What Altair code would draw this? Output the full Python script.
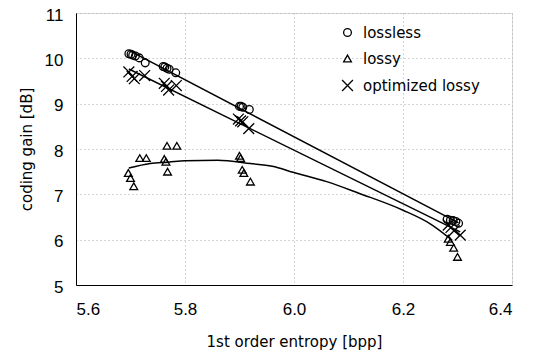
import altair as alt
import pandas as pd

LBL = "Liberation Sans"
TTL = "DejaVu Sans"

lossless_x = [5.697, 5.701, 5.704, 5.709, 5.716, 5.727, 5.760, 5.763, 5.767, 5.771, 5.783,
              5.900, 5.903, 5.906, 5.918, 6.281, 6.287, 6.292, 6.297, 6.302]
lossless_y = [10.10, 10.09, 10.07, 10.05, 10.01, 9.90, 9.82, 9.81, 9.78, 9.76, 9.68,
              8.94, 8.94, 8.92, 8.87, 6.45, 6.43, 6.42, 6.40, 6.36]

lossy_x = [5.696, 5.700, 5.706, 5.717, 5.729, 5.762, 5.765, 5.768, 5.767, 5.785,
           5.900, 5.902, 5.905, 5.908, 5.920, 6.283, 6.287, 6.293, 6.300]
lossy_y = [7.47, 7.36, 7.18, 7.80, 7.80, 7.78, 7.72, 7.50, 8.07, 8.07,
           7.85, 7.80, 7.54, 7.47, 7.28, 6.02, 5.95, 5.82, 5.62]

opt_x = [5.697, 5.703, 5.707, 5.726, 5.762, 5.766, 5.770, 5.784,
         5.898, 5.902, 5.906, 5.917, 6.283, 6.288, 6.294, 6.305]
opt_y = [9.70, 9.60, 9.55, 9.62, 9.45, 9.38, 9.30, 9.40,
         8.66, 8.62, 8.60, 8.45, 6.32, 6.27, 6.20, 6.10]

# trend curve of the lossy series
lossy_curve_x = [5.697, 5.736, 5.770, 5.800, 5.860, 5.920, 5.960, 6.000, 6.060, 6.120,
                 6.200, 6.250, 6.290]
lossy_curve_y = [7.58, 7.68, 7.71, 7.74, 7.75, 7.68, 7.62, 7.48, 7.28, 7.02,
                 6.65, 6.35, 5.99]

series_names = ["lossless", "lossy", "optimized lossy"]
x_ticks = [5.6, 5.8, 6.0, 6.2, 6.4]
y_ticks = [5, 6, 7, 8, 9, 10, 11]

df = pd.concat([
    pd.DataFrame({"x": lossless_x, "y": lossless_y, "s": series_names[0]}),
    pd.DataFrame({"x": lossy_x, "y": lossy_y, "s": series_names[1]}),
    pd.DataFrame({"x": opt_x, "y": opt_y, "s": series_names[2]}),
])
curve_df = pd.DataFrame({"x": lossy_curve_x, "y": lossy_curve_y})

xs = alt.Scale(domain=[5.6, 6.4], nice=False, zero=False)
ys = alt.Scale(domain=[5, 11], nice=False, zero=False)

common = dict(grid=True, gridDash=[1, 3], gridColor="#aaa", labelFontSize=17,
              titleFontSize=15, tickSize=0, domainColor="black",
              labelColor="black", titleColor="black", titleFontWeight="normal",
              labelFont=LBL, titleFont=TTL)
xaxis = alt.Axis(values=x_ticks, format=".1f", title="1st order entropy [bpp]",
                 labelPadding=16, titlePadding=17, **common)
yaxis = alt.Axis(values=y_ticks, title="coding gain [dB]", labelPadding=13,
                 labelOffset=2, titlePadding=10, **common)

points = alt.Chart(df).mark_point(filled=False, color="black", strokeWidth=1.3,
                                  opacity=1, size=60).encode(
    x=alt.X("x:Q", scale=xs, axis=xaxis),
    y=alt.Y("y:Q", scale=ys, axis=yaxis),
    shape=alt.Shape("s:N", scale=alt.Scale(domain=series_names,
                    range=["circle", "triangle-up",
                           "M-1.4,-1.4L1.4,1.4M-1.4,1.4L1.4,-1.4"]),
                    legend=alt.Legend(title=None, orient="none", legendX=264, legendY=12,
                                      padding=0, labelFontSize=15, labelFont=TTL,
                                      labelColor="black", labelOffset=8,
                                      symbolStrokeColor="black",
                                      symbolFillColor="transparent",
                                      symbolSize=60, rowPadding=10,
                                      symbolStrokeWidth=1.3)),
)

line_lossless = alt.Chart(df[df.s == "lossless"]).transform_regression(
    "x", "y", method="linear").mark_line(color="black", strokeWidth=1.5).encode(
    x=alt.X("x:Q", scale=xs), y=alt.Y("y:Q", scale=ys))
line_opt = alt.Chart(df[df.s == "optimized lossy"]).transform_regression(
    "x", "y", method="linear").mark_line(color="black", strokeWidth=1.5).encode(
    x=alt.X("x:Q", scale=xs), y=alt.Y("y:Q", scale=ys))
line_lossy = alt.Chart(curve_df).mark_line(color="black", strokeWidth=1.5,
                                           interpolate="monotone").encode(
    x=alt.X("x:Q", scale=xs), y=alt.Y("y:Q", scale=ys))

chart = alt.layer(line_lossless, line_opt, line_lossy, points).properties(
    width=436, height=272, autosize="none",
    padding={"left": 68, "top": 5, "right": 18, "bottom": 72},
).configure_view(stroke=None).configure(background="white")

chart.save("out.html", embed_options={"renderer": "svg", "actions": False})
